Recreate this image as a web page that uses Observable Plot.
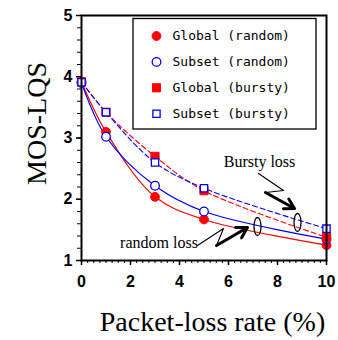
<!DOCTYPE html>
<html>
<head>
<meta charset="utf-8">
<script src="https://cdn.jsdelivr.net/npm/d3@7"></script>
<script src="https://cdn.jsdelivr.net/npm/@observablehq/plot@0.6"></script>
<style>
  html, body { margin: 0; padding: 0; background: #fff; }
</style>
</head>
<body>
<div id="chart"></div>
<script>
// ---- data ----
const rates = [0, 1, 3, 5, 10];                       // packet-loss rate (%)
const globalRandom = [3.92, 3.10, 2.04, 1.67, 1.25];
const subsetRandom = [3.90, 3.02, 2.22, 1.80, 1.35];
const globalBursty = [3.92, 3.42, 2.70, 2.14, 1.38];
const subsetBursty = [3.91, 3.42, 2.60, 2.18, 1.52];
const seriesNames = ["Global (random)", "Subset (random)", "Global (bursty)", "Subset (bursty)"];
const xTicks = [0, 2, 4, 6, 8, 10];
const yTicks = [1, 2, 3, 4, 5];
const xLabel = "Packet-loss rate (%)";
const yLabel = "MOS-LQS";
const annotations = ["Bursty loss", "random loss"];

// ---- layout ----
const W = 338, H = 340;
const mL = 81, mR = 12, mT = 15, mB = 80;
const xDomain = [0, 10], yDomain = [1, 5];
// pixel -> data helpers for placing annotations/legend
const xAt = px => xDomain[0] + (px - mL) / (W - mL - mR) * (xDomain[1] - xDomain[0]);
const yAt = py => yDomain[0] + (H - mB - py) / (H - mB - mT) * (yDomain[1] - yDomain[0]);

const mk = vals => rates.map((r, i) => ({rate: r, value: vals[i]}));
const gR = mk(globalRandom), sR = mk(subsetRandom), gB = mk(globalBursty), sB = mk(subsetBursty);

const RED = "#ff0000", BLUE = "#0000ff";
const styles = [
  {symbol: "circle", fill: RED, stroke: RED, r: 4.4, strokeWidth: 1},
  {symbol: "circle", fill: "white", stroke: BLUE, r: 4.3, strokeWidth: 1.3},
  {symbol: "square", fill: RED, stroke: RED, r: 4.6, strokeWidth: 1},
  {symbol: "square", fill: "white", stroke: BLUE, r: 4.1, strokeWidth: 1.3}
];

// legend (inside plot, upper right)
const legendRows = seriesNames.map((name, i) => ({
  name, i, x: xAt(156), tx: xAt(172), y: yAt(35.5 + i * 25.9)
}));
const legendBox = [{x1: xAt(133), x2: xAt(316), y1: yAt(18.5), y2: yAt(129)}];

// axis titles & annotation geometry
const xTitle = [{t: xLabel, x: xAt(212), y: yAt(322)}];
const yTitle = [{t: yLabel, x: xAt(37), y: yAt(123)}];
const burstyText = [{t: annotations[0], x: xAt(259), y: yAt(161)}];
const randomText = [{t: annotations[1], x: xAt(158.5), y: yAt(242)}];
const burstyZig = [[258, 173], [283, 190], [265, 192]].map(([a, b]) => ({x: xAt(a), y: yAt(b)}));
const burstyArrow = [{x1: xAt(265), y1: yAt(192), x2: xAt(294), y2: yAt(208)}];
const randomZig = [[197, 245], [223, 228], [216, 245]].map(([a, b]) => ({x: xAt(a), y: yAt(b)}));
const randomArrow = [{x1: xAt(216), y1: yAt(245), x2: xAt(247), y2: yAt(227)}];
const ellipses = [{x: xAt(257), y: yAt(226)}, {x: xAt(297), y: yAt(222)}];

const ellipseSymbol = {
  draw(ctx) {
    const rx = 3.5, ry = 9, k = 0.5523;
    ctx.moveTo(rx, 0);
    ctx.bezierCurveTo(rx, k * ry, k * rx, ry, 0, ry);
    ctx.bezierCurveTo(-k * rx, ry, -rx, k * ry, -rx, 0);
    ctx.bezierCurveTo(-rx, -k * ry, -k * rx, -ry, 0, -ry);
    ctx.bezierCurveTo(k * rx, -ry, rx, -k * ry, rx, 0);
    ctx.closePath();
  }
};

const tickFont = "Liberation Sans, Arial, Helvetica, sans-serif";
const serif = "Liberation Serif, Times New Roman, Times, serif";
const mono = "DejaVu Sans Mono, Liberation Mono, monospace";

const dot = (data, s) => Plot.dot(data, {x: "rate", y: "value", ...s});

const plot = Plot.plot({
  width: W, height: H,
  marginLeft: mL, marginRight: mR, marginTop: mT, marginBottom: mB,
  x: {domain: xDomain},
  y: {domain: yDomain},
  style: {background: "white", overflow: "visible"},
  marks: [
    // minor & major ticks
    Plot.axisX({ticks: d3.range(0, 10.001, 0.25), tickSize: 3, text: null, label: null, strokeWidth: 1}),
    Plot.axisX({ticks: xTicks, tickSize: 5, text: null, label: null, strokeWidth: 1.5}),
    Plot.axisY({ticks: d3.range(1, 5.001, 0.2), tickSize: 4, text: null, label: null, strokeWidth: 1}),
    Plot.axisY({ticks: yTicks, tickSize: 5, text: null, label: null, strokeWidth: 1.5}),
    // tick labels
    Plot.axisX({ticks: xTicks, tickFormat: d => String(d), tickSize: 0, tickPadding: 15, label: null, fontSize: 16, fontWeight: "bold", fontFamily: tickFont, fill: "black"}),
    Plot.axisY({ticks: yTicks, tickFormat: d => String(d), tickSize: 0, tickPadding: 9, label: null, fontSize: 16, fontWeight: "bold", fontFamily: tickFont, fill: "black"}),
    // axis titles
    Plot.text(xTitle, {x: "x", y: "y", text: "t", fontSize: 28, fontFamily: serif, lineAnchor: "middle", fill: "black"}),
    Plot.text(yTitle, {x: "x", y: "y", text: "t", rotate: -90, fontSize: 28, fontFamily: serif, lineAnchor: "middle", fill: "black"}),
    // curves
    Plot.line(gB, {x: "rate", y: "value", curve: "catmull-rom", stroke: RED, strokeWidth: 1.1, strokeDasharray: "5,3"}),
    Plot.line(sB, {x: "rate", y: "value", curve: "catmull-rom", stroke: BLUE, strokeWidth: 1.1, strokeDasharray: "5,3"}),
    Plot.line(gR, {x: "rate", y: "value", curve: "catmull-rom", stroke: RED, strokeWidth: 1.2}),
    Plot.line(sR, {x: "rate", y: "value", curve: "catmull-rom", stroke: BLUE, strokeWidth: 1.2}),
    // markers
    dot(gR, styles[0]),
    dot(sR, styles[1]),
    dot(gB, styles[2]),
    dot(sB, styles[3]),
    // annotations
    Plot.text(burstyText, {x: "x", y: "y", text: "t", fontSize: 16, fontFamily: serif, fill: "black"}),
    Plot.text(randomText, {x: "x", y: "y", text: "t", fontSize: 16, fontFamily: serif, fill: "black"}),
    Plot.line(burstyZig, {x: "x", y: "y", stroke: "black", strokeWidth: 1.1}),
    Plot.arrow(burstyArrow, {x1: "x1", y1: "y1", x2: "x2", y2: "y2", stroke: "black", strokeWidth: 3, headLength: 7}),
    Plot.line(randomZig, {x: "x", y: "y", stroke: "black", strokeWidth: 1.1}),
    Plot.arrow(randomArrow, {x1: "x1", y1: "y1", x2: "x2", y2: "y2", stroke: "black", strokeWidth: 3, headLength: 7}),
    Plot.dot(ellipses, {x: "x", y: "y", symbol: ellipseSymbol, stroke: "black", strokeWidth: 1.3, fill: "none"}),
    // legend
    Plot.rect(legendBox, {x1: "x1", x2: "x2", y1: "y1", y2: "y2", fill: "white", stroke: "black", strokeWidth: 1.3}),
    ...legendRows.map(row => Plot.dot([row], {x: "x", y: "y", ...styles[row.i]})),
    Plot.text(legendRows, {x: "tx", y: "y", text: "name", textAnchor: "start", fontSize: 13, fontFamily: mono, fill: "black"}),
    // frame
    Plot.frame({stroke: "black", strokeWidth: 2})
  ]
});

document.getElementById("chart").appendChild(plot);
</script>
</body>
</html>
